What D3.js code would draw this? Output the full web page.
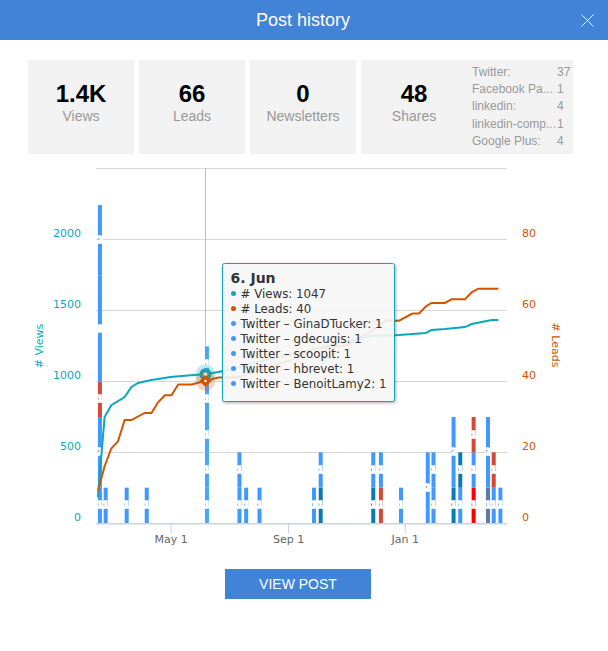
<!DOCTYPE html>
<html>
<head>
<meta charset="utf-8">
<title>Post history</title>
<script src="https://cdn.jsdelivr.net/npm/d3@7"></script>
<style>
	html, body { margin: 0; padding: 0; background: #fff; }
	svg { display: block; font-family: "Liberation Sans", Arial, sans-serif; }
</style>
</head>
<body>
<div id="chart"></div>
<script>
// stat cards
var statValues = ["1.4K", "66", "0", "48"];
var statNames = ["Views", "Leads", "Newsletters", "Shares"];
var networkNames = ["Twitter:", "Facebook Pa...", "linkedin:", "linkedin-comp...", "Google Plus:"];
var networkCounts = [37, 1, 4, 1, 4];

// axis ticks
var viewTicks = [0, 500, 1000, 1500, 2000];
var leadTicks = [0, 20, 40, 60, 80];
var dateTicks = ["2014-05-01", "2014-09-01", "2015-01-01"];

// line series
var viewDates = ["2014-02-14", "2014-02-21", "2014-02-28", "2014-03-14", "2014-03-21", "2014-03-28", "2014-04-11", "2014-05-01", "2014-05-25", "2014-06-06", "2014-06-20", "2014-07-10", "2014-07-31", "2014-09-26", "2014-10-03", "2014-11-27", "2014-12-26", "2015-01-23", "2015-01-29", "2015-02-12", "2015-03-05", "2015-03-12", "2015-04-02", "2015-04-09"];
var viewValues = [183, 746, 830, 887, 958, 986, 1007, 1028, 1042, 1047, 1063, 1092, 1135, 1218, 1232, 1317, 1324, 1338, 1359, 1366, 1380, 1401, 1430, 1430];
var leadDates = ["2014-02-14", "2014-02-21", "2014-02-28", "2014-03-07", "2014-03-14", "2014-03-21", "2014-04-04", "2014-04-11", "2014-04-18", "2014-04-25", "2014-05-02", "2014-05-09", "2014-05-23", "2014-06-06", "2014-06-20", "2014-07-10", "2014-07-31", "2014-09-05", "2014-09-26", "2014-11-01", "2014-11-27", "2014-12-12", "2014-12-26", "2015-01-09", "2015-01-16", "2015-01-23", "2015-01-29", "2015-02-12", "2015-02-19", "2015-03-05", "2015-03-12", "2015-03-19", "2015-04-09"];
var leadValues = [9, 16, 21, 23, 29, 29, 31, 31, 34, 36, 36, 39, 39, 40, 41, 41, 43, 46, 49, 50, 54, 57, 57, 59, 59, 61, 62, 62, 63, 63, 65, 66, 66];

// share bars, each one stacked from the bottom up
var shareDates = ["2014-02-14", "2014-02-20", "2014-03-14", "2014-04-04", "2014-06-06", "2014-07-10", "2014-07-17", "2014-07-31", "2014-09-26", "2014-10-03", "2014-11-27", "2014-12-05", "2014-12-26", "2015-01-23", "2015-01-29", "2015-02-19", "2015-02-26", "2015-03-12", "2015-03-27", "2015-04-02", "2015-04-09"];
var shareValues = [[1, 2, 1, 3, 2], [1], [1], [1], [1, 1, 1, 1, 1], [1, 1], [1], [1], [1], [1, 1], [1, 1], [1, 1], [1], [2], [1, 1], [1, 2], [1, 1], [1, 1, 1], [1, 2], [1, 1], [1]];
var shareKinds = [["tw", "tw", "gp", "tw", "tw"], ["tw"], ["tw"], ["tw"], ["tw", "tw", "tw", "tw", "tw"], ["tw", "tw"], ["tw"], ["tw"], ["tw"], ["li", "tw"], ["li", "tw"], ["gp", "tw"], ["tw"], ["tw"], ["tw", "tw"], ["li", "tw"], ["tw", "li"], ["lc", "tw", "gp"], ["fb", "tw"], ["tw", "gp"], ["tw"]];

// tooltip
var tipDate = "2014-06-06";
var tipTitle = "6. Jun";
var tipKinds = ["views", "leads", "tw", "tw", "tw", "tw", "tw"];
var tipLabels = ["# Views: 1047", "# Leads: 40", "Twitter – GinaDTucker: 1", "Twitter – gdecugis: 1", "Twitter – scoopit: 1", "Twitter – hbrevet: 1", "Twitter – BenoitLamy2: 1"];

var w = 608, h = 651;
var plot = {left: 96, right: 507, top: 168, bottom: 523};
var parse = d3.utcParse("%Y-%m-%d");

var x = d3.scaleUtc()
	.domain([parse("2014-02-12"), parse("2015-04-18")])
	.range([plot.left, plot.right]);
var yViews = d3.scaleLinear().domain([0, 2500]).range([plot.bottom, plot.top]);
var yLeads = d3.scaleLinear().domain([0, 100]).range([plot.bottom, plot.top]);
var yShares = d3.scaleLinear().domain([0, 10.05]).range([plot.bottom, plot.top]);

var color = d3.scaleOrdinal()
	.domain(["tw", "fb", "li", "lc", "gp", "views", "leads"])
	.range(["#4099ff", "#5f79a8", "#0a7bb0", "#ff0000", "#d34836", "#0ca6bd", "#d35400"]);

var svg = d3.select("#chart")
	.append("svg")
	.attr("width", w)
	.attr("height", h);

var defs = svg.append("defs");
defs.append("filter")
	.attr("id", "tipshadow")
	.attr("x", "-10%")
	.attr("y", "-10%")
	.attr("width", "120%")
	.attr("height", "120%")
	.append("feDropShadow")
	.attr("dx", 1)
	.attr("dy", 1)
	.attr("stdDeviation", 1.5)
	.attr("flood-opacity", 0.35);
defs.append("filter")
	.attr("id", "labelglow")
	.attr("x", "-100%")
	.attr("y", "-100%")
	.attr("width", "300%")
	.attr("height", "300%")
	.append("feGaussianBlur")
	.attr("stdDeviation", 0.7);

// header
svg.append("rect")
	.attr("width", w)
	.attr("height", 40)
	.attr("fill", "#4183d7");
svg.append("text")
	.text("Post history")
	.attr("x", 303)
	.attr("y", 26)
	.attr("font-size", "18px")
	.attr("text-anchor", "middle")
	.attr("fill", "#fff");
svg.append("path")
	.attr("d", "M581.5,14.5L593.5,26.5M593.5,14.5L581.5,26.5")
	.attr("stroke", "#fff")
	.attr("fill", "none");

// stat cards
var cardX = [28, 139, 250, 361];
var cardW = [106, 106, 106, 212];
var cardCx = [81, 192, 303, 414];

svg.selectAll("rect.card")
	.data(statValues)
	.enter()
	.append("rect")
	.attr("class", "card")
	.attr("x", function(d, i){ return cardX[i]; })
	.attr("y", 60)
	.attr("width", function(d, i){ return cardW[i]; })
	.attr("height", 94)
	.attr("fill", "#f2f2f2");

svg.selectAll("text.stat")
	.data(statValues)
	.enter()
	.append("text")
	.attr("class", "stat")
	.text(function(d){ return d; })
	.attr("x", function(d, i){ return cardCx[i]; })
	.attr("y", 102)
	.attr("font-size", "24px")
	.attr("font-weight", "bold")
	.attr("text-anchor", "middle")
	.attr("fill", "#000");

svg.selectAll("text.statname")
	.data(statNames)
	.enter()
	.append("text")
	.attr("class", "statname")
	.text(function(d){ return d; })
	.attr("x", function(d, i){ return cardCx[i]; })
	.attr("y", 121)
	.attr("font-size", "14px")
	.attr("text-anchor", "middle")
	.attr("fill", "#999");

svg.selectAll("text.netname")
	.data(networkNames)
	.enter()
	.append("text")
	.attr("class", "netname")
	.text(function(d){ return d; })
	.attr("x", 472)
	.attr("y", function(d, i){ return 76 + i * 17.2; })
	.attr("font-size", "12px")
	.attr("fill", "#999");

svg.selectAll("text.netcount")
	.data(networkCounts)
	.enter()
	.append("text")
	.attr("class", "netcount")
	.text(function(d){ return d; })
	.attr("x", 557)
	.attr("y", function(d, i){ return 76 + i * 17.2; })
	.attr("font-size", "12px")
	.attr("fill", "#999");

// grid
svg.append("g")
	.selectAll("line")
	.data(yViews.ticks(5))
	.enter()
	.append("line")
	.attr("x1", plot.left)
	.attr("x2", plot.right)
	.attr("y1", function(d){ return Math.round(yViews(d)) + 0.5; })
	.attr("y2", function(d){ return Math.round(yViews(d)) + 0.5; })
	.attr("stroke", "#d8d8d8");

// crosshair
svg.append("line")
	.attr("x1", Math.round(x(parse(tipDate))) + 0.5)
	.attr("x2", Math.round(x(parse(tipDate))) + 0.5)
	.attr("y1", plot.top)
	.attr("y2", plot.bottom)
	.attr("stroke", "#c0c0c0");

// share bars
var barW = 4;
shareDates.forEach(function(date, i){
	var hovered = date === tipDate;
	var total = 0;
	shareValues[i].forEach(function(v, j){
		var y0 = yShares(total);
		var y1 = yShares(total + v);
		total += v;
		svg.append("rect")
			.attr("x", x(parse(date)))
			.attr("y", y1)
			.attr("width", barW)
			.attr("height", y0 - y1)
			.attr("fill", hovered ? d3.color(color(shareKinds[i][j])).brighter(0.25) : color(shareKinds[i][j]));
		svg.append("text")
			.text(v)
			.attr("x", x(parse(date)) + barW / 2)
			.attr("y", (y0 + y1) / 2 + 3)
			.attr("font-size", "9px")
			.attr("font-family", "DejaVu Sans")
			.attr("font-weight", "bold")
			.attr("text-anchor", "middle")
			.attr("fill", "#fff")
			.attr("stroke", "#fff")
			.attr("stroke-width", 1.6)
			.style("filter", "url(#labelglow)");
	});
});

// lines
var viewLine = d3.line()
	.x(function(d, i){ return x(parse(viewDates[i])); })
	.y(function(d){ return yViews(d); });
var leadLine = d3.line()
	.x(function(d, i){ return x(parse(leadDates[i])); })
	.y(function(d){ return yLeads(d); });

svg.append("path")
	.attr("d", viewLine(viewValues))
	.attr("fill", "none")
	.attr("stroke", color("views"))
	.attr("stroke-width", 2);
svg.append("path")
	.attr("d", leadLine(leadValues))
	.attr("fill", "none")
	.attr("stroke", color("leads"))
	.attr("stroke-width", 2);

// hover markers
var tipX = x(parse(tipDate)) + 0.5;
var tipViews = viewValues[viewDates.indexOf(tipDate)];
var tipLeads = leadValues[leadDates.indexOf(tipDate)];

svg.append("circle")
	.attr("cx", tipX)
	.attr("cy", yViews(tipViews))
	.attr("r", 10)
	.attr("fill", color("views"))
	.attr("fill-opacity", 0.25);
svg.append("circle")
	.attr("cx", tipX)
	.attr("cy", yViews(tipViews))
	.attr("r", 6)
	.attr("fill", color("views"));
svg.append("circle")
	.attr("cx", tipX)
	.attr("cy", yViews(tipViews))
	.attr("r", 2)
	.attr("fill", "#fff");
svg.append("circle")
	.attr("cx", tipX)
	.attr("cy", yLeads(tipLeads))
	.attr("r", 10)
	.attr("fill", color("leads"))
	.attr("fill-opacity", 0.25);
svg.append("path")
	.attr("d", d3.symbol().type(d3.symbolSquare).size(72))
	.attr("transform", "translate(" + tipX + "," + yLeads(tipLeads) + ") rotate(45)")
	.attr("fill", color("leads"));
svg.append("circle")
	.attr("cx", tipX)
	.attr("cy", yLeads(tipLeads))
	.attr("r", 1.2)
	.attr("fill", "#fff");

// axes
var axisLeft = d3.axisLeft(yViews)
	.tickValues(viewTicks)
	.tickFormat(d3.format("d"))
	.tickSize(0)
	.tickPadding(15);
var axisRight = d3.axisRight(yLeads)
	.tickValues(leadTicks)
	.tickSize(0)
	.tickPadding(15);
var axisBottom = d3.axisBottom(x)
	.tickValues(dateTicks.map(parse))
	.tickFormat(d3.utcFormat("%b %-d"))
	.tickSize(10)
	.tickSizeOuter(0)
	.tickPadding(2);

function styleAxis(g, fill){
	g.select(".domain").remove();
	g.selectAll("text")
		.attr("y", -6)
		.attr("font-size", "11px")
		.attr("font-family", "DejaVu Sans")
		.attr("fill", fill);
}

svg.append("g")
	.attr("transform", "translate(" + plot.left + ",0)")
	.call(axisLeft)
	.call(styleAxis, color("views"));
svg.append("g")
	.attr("transform", "translate(" + plot.right + ",0)")
	.call(axisRight)
	.call(styleAxis, color("leads"));

var bottomAxis = svg.append("g")
	.attr("transform", "translate(0," + (plot.bottom + 0.5) + ")")
	.call(axisBottom);
bottomAxis.select(".domain")
	.attr("stroke", "#c0d0e0");
bottomAxis.selectAll("line")
	.attr("stroke", "#c0d0e0");
bottomAxis.selectAll("text")
	.attr("font-size", "11px")
	.attr("font-family", "DejaVu Sans")
	.attr("fill", "#666");

svg.append("text")
	.text("# Views")
	.attr("transform", "translate(43,346) rotate(-90)")
	.attr("font-size", "11px")
	.attr("font-family", "DejaVu Sans")
	.attr("text-anchor", "middle")
	.attr("fill", color("views"));
svg.append("text")
	.text("# Leads")
	.attr("transform", "translate(552,345) rotate(90)")
	.attr("font-size", "11px")
	.attr("font-family", "DejaVu Sans")
	.attr("text-anchor", "middle")
	.attr("fill", color("leads"));

// tooltip
var tip = svg.append("g")
	.attr("transform", "translate(222.5,263.5)");
tip.append("rect")
	.attr("width", 172)
	.attr("height", 138)
	.attr("rx", 2)
	.attr("fill", "#fbfbfb")
	.attr("fill-opacity", 0.88)
	.attr("stroke", color("views"))
	.style("filter", "url(#tipshadow)");
tip.append("text")
	.text(tipTitle)
	.attr("x", 8)
	.attr("y", 19)
	.attr("font-size", "14px")
	.attr("font-weight", "bold")
	.attr("font-family", "DejaVu Sans")
	.attr("fill", "#333");
tip.selectAll("circle")
	.data(tipKinds)
	.enter()
	.append("circle")
	.attr("cx", 11)
	.attr("cy", function(d, i){ return 30 + i * 15; })
	.attr("r", 2.5)
	.attr("fill", function(d){ return color(d); });
tip.selectAll("text.tipline")
	.data(tipLabels)
	.enter()
	.append("text")
	.attr("class", "tipline")
	.text(function(d){ return d; })
	.attr("x", 18)
	.attr("y", function(d, i){ return 34.5 + i * 15; })
	.attr("font-size", "11.8px")
	.attr("font-family", "DejaVu Sans")
	.attr("fill", "#333");

// button
svg.append("rect")
	.attr("x", 225)
	.attr("y", 569)
	.attr("width", 146)
	.attr("height", 30)
	.attr("fill", "#4183d7");
svg.append("text")
	.text("VIEW POST")
	.attr("x", 298)
	.attr("y", 589)
	.attr("font-size", "14px")
	.attr("text-anchor", "middle")
	.attr("fill", "#fff");
</script>
</body>
</html>
